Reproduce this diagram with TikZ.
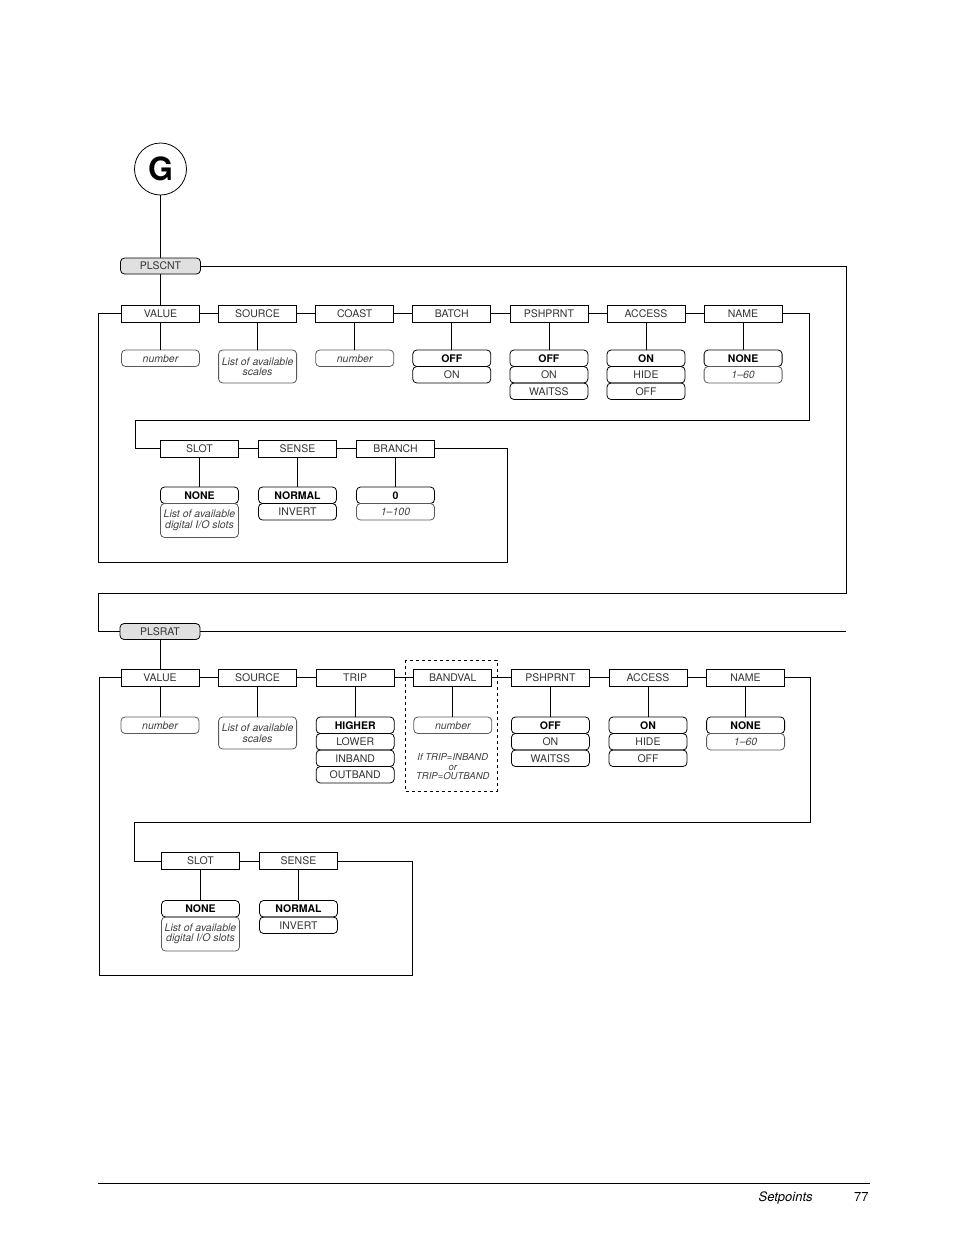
\documentclass[tikz,border=0pt]{standalone}
\usepackage{fontspec}
\setmainfont{TeX Gyre Heros}
\usepackage{tikz}
\usetikzlibrary{positioning}

\begin{document}
\begin{tikzpicture}[x=1pt,y=-1pt,line width=0.8pt,
  hdr/.style={draw,rectangle,minimum width=78,minimum height=17,inner sep=0pt,outer sep=0pt,text=black!80,font=\fontsize{10.5}{12}\selectfont},
  menu/.style={hdr,rounded corners=4pt,fill=black!12,minimum width=80,minimum height=16},
  opt/.style={draw,rounded corners=4pt,minimum width=78,minimum height=16.5,inner sep=0pt,outer sep=0pt,text=black!80,font=\fontsize{10.5}{12}\selectfont},
  optb/.style={opt,text=black,font=\fontsize{10.5}{12}\selectfont\bfseries},
  opti/.style={opt,draw=black!65,text=black!75,align=center,font=\fontsize{10.5}{10.5}\selectfont\itshape},
  note/.style={text=black!75,align=center,inner sep=0pt,font=\fontsize{9.5}{9.5}\selectfont\itshape}]

\useasboundingbox (0,0) rectangle (954,1235);

\node[draw,circle,minimum size=52,inner sep=0pt,font=\fontsize{32}{32}\selectfont\bfseries] (g) at (160.5,169) {G};
\node[menu] (plscnt) at (160.5,266) {PLSCNT};
\node[menu] (plsrat) at (160,631.5) {PLSRAT};

\node[hdr] (value1) at (160.5,313.5) {VALUE};
\node[hdr,right=19.1pt of value1] (source1) {SOURCE};
\node[hdr,right=19.1pt of source1] (coast1) {COAST};
\node[hdr,right=19.1pt of coast1] (batch1) {BATCH};
\node[hdr,right=19.1pt of batch1] (pshprnt1) {PSHPRNT};
\node[hdr,right=19.1pt of pshprnt1] (access1) {ACCESS};
\node[hdr,right=19.1pt of access1] (name1) {NAME};

\node[opti,below=28pt of value1] (value1a) {number};
\node[opti,below=28pt of source1,minimum height=33] (source1a) {List of available\\scales};
\node[opti,below=28pt of coast1] (coast1a) {number};
\node[optb,below=28pt of batch1] (batch1a) {OFF};
\node[opt,below=0pt of batch1a] (batch1b) {ON};
\node[optb,below=28pt of pshprnt1] (pshprnt1a) {OFF};
\node[opt,below=0pt of pshprnt1a] (pshprnt1b) {ON};
\node[opt,below=0pt of pshprnt1b] (pshprnt1c) {WAITSS};
\node[optb,below=28pt of access1] (access1a) {ON};
\node[opt,below=0pt of access1a] (access1b) {HIDE};
\node[opt,below=0pt of access1b] (access1c) {OFF};
\node[optb,below=28pt of name1] (name1a) {NONE};
\node[opti,below=0pt of name1a] (name1b) {1--60};

\node[hdr] (slot1) at (199.5,448.5) {SLOT};
\node[hdr,right=20pt of slot1] (sense1) {SENSE};
\node[hdr,right=20pt of sense1] (branch1) {BRANCH};

\node[optb,below=30pt of slot1] (slot1a) {NONE};
\node[opti,below=0pt of slot1a,minimum height=34] (slot1b) {List of available\\digital I/O slots};
\node[optb,below=30pt of sense1] (sense1a) {NORMAL};
\node[opt,below=0pt of sense1a] (sense1b) {INVERT};
\node[optb,below=30pt of branch1] (branch1a) {0};
\node[opti,below=0pt of branch1a] (branch1b) {1--100};

\node[hdr] (value2) at (160,677.5) {VALUE};
\node[hdr,right=19.6pt of value2] (source2) {SOURCE};
\node[hdr,right=19.6pt of source2] (trip2) {TRIP};
\node[hdr,right=19.6pt of trip2] (bandval2) {BANDVAL};
\node[hdr,right=19.6pt of bandval2] (pshprnt2) {PSHPRNT};
\node[hdr,right=19.6pt of pshprnt2] (access2) {ACCESS};
\node[hdr,right=19.6pt of access2] (name2) {NAME};

\node[opti,below=31pt of value2] (value2a) {number};
\node[opti,below=31pt of source2,minimum height=32] (source2a) {List of available\\scales};
\node[optb,below=31pt of trip2] (trip2a) {HIGHER};
\node[opt,below=0pt of trip2a] (trip2b) {LOWER};
\node[opt,below=0pt of trip2b] (trip2c) {INBAND};
\node[opt,below=0pt of trip2c] (trip2d) {OUTBAND};
\node[opti,below=31pt of bandval2] (bandval2a) {number};
\node[note,below=20pt of bandval2a] (bandnote) {If TRIP=INBAND\\or\\TRIP=OUTBAND};
\node[optb,below=31pt of pshprnt2] (pshprnt2a) {OFF};
\node[opt,below=0pt of pshprnt2a] (pshprnt2b) {ON};
\node[opt,below=0pt of pshprnt2b] (pshprnt2c) {WAITSS};
\node[optb,below=31pt of access2] (access2a) {ON};
\node[opt,below=0pt of access2a] (access2b) {HIDE};
\node[opt,below=0pt of access2b] (access2c) {OFF};
\node[optb,below=31pt of name2] (name2a) {NONE};
\node[opti,below=0pt of name2a] (name2b) {1--60};

\node[hdr] (slot2) at (200.5,861) {SLOT};
\node[hdr,right=20pt of slot2] (sense2) {SENSE};

\node[optb,below=31pt of slot2] (slot2a) {NONE};
\node[opti,below=0pt of slot2a,minimum height=34] (slot2b) {List of available\\digital I/O slots};
\node[optb,below=31pt of sense2] (sense2a) {NORMAL};
\node[opt,below=0pt of sense2a] (sense2b) {INVERT};

\coordinate (loopR) at (846,593);
\coordinate (loopL) at (98,631.5);
\coordinate (endR) at (846,631.5);
\coordinate (box1L) at (98,562);
\coordinate (box1R) at (507,562);
\coordinate (wrap1R) at (809,420);
\coordinate (wrap1L) at (135,448.5);
\coordinate (box2L) at (99.5,975);
\coordinate (box2R) at (412,975);
\coordinate (wrap2R) at (810.5,822.5);
\coordinate (wrap2L) at (134.5,861);

\draw (g.south) -- (plscnt.north);
\draw (plscnt.south) -- (value1.north);
\draw (plscnt.east) -| (loopR) -| (loopL) -- (plsrat.west);
\draw (plsrat.east) -- (endR);
\draw (plsrat.south) -- (value2.north);

\draw (value1) -- (source1) -- (coast1) -- (batch1) -- (pshprnt1) -- (access1) -- (name1);
\draw (name1.east) -| (wrap1R) -| (wrap1L) -- (slot1.west);
\draw (slot1) -- (sense1) -- (branch1);
\draw (value1.west) -| (box1L) -- (box1R) |- (branch1.east);

\draw (value2) -- (source2) -- (trip2) -- (bandval2) -- (pshprnt2) -- (access2) -- (name2);
\draw (name2.east) -| (wrap2R) -| (wrap2L) -- (slot2.west);
\draw (slot2) -- (sense2);
\draw (value2.west) -| (box2L) -- (box2R) |- (sense2.east);

\draw (value1) -- (value1a);
\draw (source1) -- (source1a);
\draw (coast1) -- (coast1a);
\draw (batch1) -- (batch1a);
\draw (pshprnt1) -- (pshprnt1a);
\draw (access1) -- (access1a);
\draw (name1) -- (name1a);
\draw (slot1) -- (slot1a);
\draw (sense1) -- (sense1a);
\draw (branch1) -- (branch1a);
\draw (value2) -- (value2a);
\draw (source2) -- (source2a);
\draw (trip2) -- (trip2a);
\draw (bandval2) -- (bandval2a);
\draw (pshprnt2) -- (pshprnt2a);
\draw (access2) -- (access2a);
\draw (name2) -- (name2a);
\draw (slot2) -- (slot2a);
\draw (sense2) -- (sense2a);

\draw[dashed,line width=0.7pt] (405,660) rectangle (497,791);

\coordinate (footL) at (98,1183.5);
\coordinate (footR) at (870,1183.5);
\draw[line width=0.7pt] (footL) -- (footR);
\node[anchor=base east,inner sep=0pt,font=\fontsize{13}{15}\selectfont\itshape] (chapter) at (813,1201) {Setpoints};
\node[anchor=base east,inner sep=0pt,font=\fontsize{13}{15}\selectfont] (page) at (869,1201) {77};

\end{tikzpicture}
\end{document}
